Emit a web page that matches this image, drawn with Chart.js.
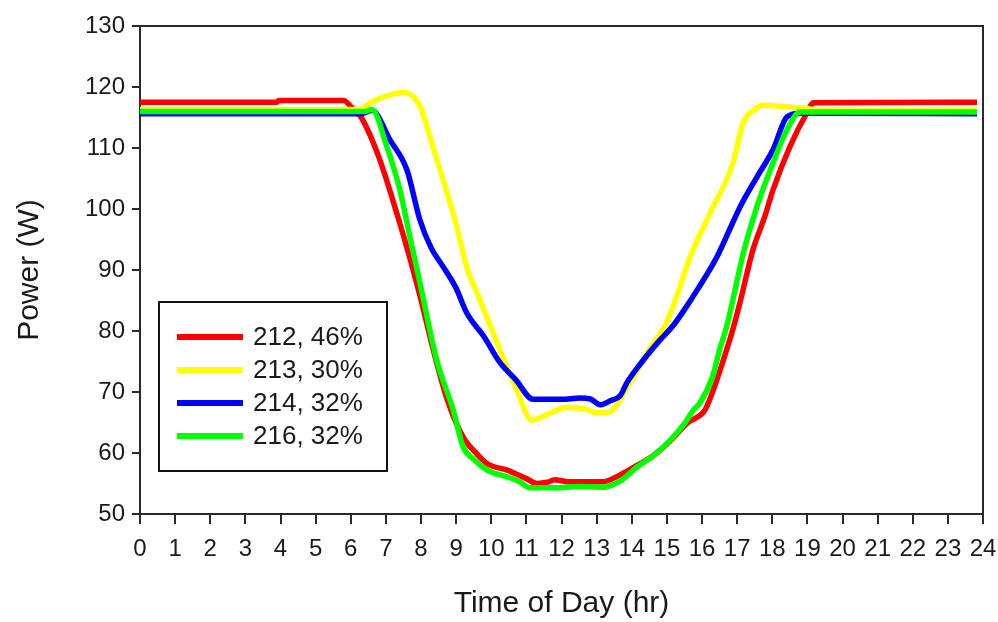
<!DOCTYPE html>
<html>
<head>
<meta charset="utf-8">
<script src="https://cdn.jsdelivr.net/npm/chart.js@4.4.1/dist/chart.umd.min.js"></script>
<style>
  html, body { margin: 0; padding: 0; background: #ffffff; }
  #wrap { width: 998px; height: 622px; position: relative; }
</style>
</head>
<body>
<div id="wrap"><canvas id="c" width="998" height="622"></canvas></div>
<script>
// ---- Data ----
const seriesLabels = ['212, 46%', '213, 30%', '214, 32%', '216, 32%'];
const seriesColors = ['#ff0000', '#ffff00', '#0000ff', '#00ff00'];

const hours212 = [0, 3.9, 3.95, 5.8, 6.0, 6.3, 6.8, 7.3, 7.7, 8.0, 8.35, 8.75, 9.2, 9.6, 9.9, 10.45, 11.0, 11.3, 11.6, 11.8, 12.2, 12.7, 13.2, 13.6, 14.1, 14.6, 15.1, 15.6, 16.08, 16.3, 16.7, 16.9, 17.1, 17.45, 17.8, 18.02, 18.5, 18.98, 19.17, 23.83];
const power212 = [117.5, 117.5, 117.8, 117.8, 116.8, 115.0, 108.5, 99.5, 91.6, 85.1, 76.9, 68.7, 62.6, 59.8, 58.2, 57.2, 55.8, 55.0, 55.2, 55.6, 55.3, 55.3, 55.3, 56.2, 57.8, 59.5, 62.0, 65.0, 67.0, 70.0, 76.9, 80.7, 85.1, 93.3, 99.0, 103.1, 110.2, 115.7, 117.4, 117.5];

const hours213 = [0, 6.3, 6.5, 7.0, 7.5, 7.77, 8.0, 8.34, 8.63, 9.0, 9.3, 9.6, 10.25, 10.73, 11.15, 11.67, 12.15, 12.7, 13.0, 13.3, 14.0, 14.5, 15.0, 15.3, 15.66, 16.23, 16.88, 17.17, 17.5, 17.73, 18.3, 18.96, 19.3, 23.83];
const power213 = [116.3, 116.3, 117.2, 118.5, 119.1, 118.5, 116.5, 110.2, 104.8, 97.5, 90.5, 86.2, 76.9, 70.3, 65.4, 66.5, 67.5, 67.2, 66.6, 66.6, 72.0, 77.0, 81.5, 86.0, 92.1, 99.3, 107.5, 114.1, 116.3, 117.0, 116.8, 116.5, 116.2, 116.2];

const hours214 = [0, 6.3, 6.6, 7.12, 7.6, 7.97, 8.3, 8.6, 9.0, 9.3, 9.8, 10.25, 10.7, 11.19, 12.0, 12.53, 12.8, 13.1, 13.4, 13.67, 13.86, 14.3, 14.8, 15.18, 15.5, 15.86, 16.42, 16.8, 17.08, 17.56, 18.02, 18.42, 18.8, 23.83];
const power214 = [115.6, 115.6, 116.2, 111.3, 106.4, 98.2, 93.5, 90.8, 87.0, 83.0, 79.0, 74.8, 72.0, 68.8, 68.8, 69.0, 68.9, 67.9, 68.6, 69.4, 71.5, 75.0, 78.5, 80.9, 83.5, 86.7, 92.1, 96.8, 100.3, 105.2, 109.7, 115.1, 115.7, 115.6];

const hours216 = [0, 6.4, 6.6, 7.03, 7.4, 7.7, 7.97, 8.45, 8.92, 9.2, 9.5, 9.88, 10.45, 10.8, 11.1, 11.77, 12.5, 13.2, 13.7, 14.15, 14.6, 15.1, 15.5, 15.75, 15.94, 16.3, 16.5, 16.7, 16.88, 17.17, 17.56, 18.02, 18.42, 18.79, 23.83];
const power216 = [116.0, 116.0, 116.3, 110.2, 103.1, 95.0, 87.9, 75.2, 67.0, 61.0, 59.0, 57.2, 56.1, 55.3, 54.3, 54.3, 54.5, 54.4, 55.5, 57.7, 59.5, 62.1, 64.8, 67.0, 68.2, 72.5, 76.9, 80.7, 85.1, 92.6, 100.3, 107.5, 113.0, 115.9, 115.9];

const yTickMin = 50, yTickMax = 130, yTickStep = 10;
const xTickMin = 0, xTickMax = 24, xTickStep = 1;
const xTitle = 'Time of Day (hr)';
const yTitle = 'Power (W)';

function pts(h, v) { return h.map((x, i) => ({ x: x, y: v[i] })); }

const allHours = [hours212, hours213, hours214, hours216];
const allPower = [power212, power213, power214, power216];
const drawOrder = [4, 3, 2, 1]; // green on top, red at bottom

const datasets = seriesLabels.map((lab, i) => ({
  label: lab,
  data: pts(allHours[i], allPower[i]),
  borderColor: seriesColors[i],
  backgroundColor: seriesColors[i],
  borderWidth: 5.5,
  pointRadius: 0,
  cubicInterpolationMode: 'monotone',
  borderJoinStyle: 'round',
  borderCapStyle: 'butt',
  fill: false,
  order: drawOrder[i]
}));

const AXIS = '#2a2a2a';
const FONT = "'Liberation Sans', Arial, sans-serif";

const framePlugin = {
  id: 'frame',
  afterDatasetsDraw(chart) {
    const { ctx, chartArea: a } = chart;
    ctx.save();
    ctx.strokeStyle = AXIS;
    ctx.lineWidth = 2;
    ctx.beginPath();
    ctx.moveTo(a.left - 8, a.top);
    ctx.lineTo(a.right, a.top);
    ctx.lineTo(a.right, a.bottom + 10);
    ctx.stroke();
    ctx.restore();
  }
};

const legendPlugin = {
  id: 'boxLegend',
  afterDraw(chart) {
    const { ctx, chartArea: a } = chart;
    const bx = a.left + 19, by = a.top + 276, bw = 228, bh = 169;
    ctx.save();
    ctx.fillStyle = '#ffffff';
    ctx.fillRect(bx, by, bw, bh);
    ctx.strokeStyle = '#111';
    ctx.lineWidth = 2;
    ctx.strokeRect(bx, by, bw, bh);
    ctx.font = "26px " + FONT;
    ctx.textBaseline = 'middle';
    ctx.textAlign = 'left';
    seriesLabels.forEach((lab, i) => {
      const y = by + 35 + i * 33;
      ctx.strokeStyle = seriesColors[i];
      ctx.lineWidth = 6;
      ctx.beginPath();
      ctx.moveTo(bx + 18, y);
      ctx.lineTo(bx + 84, y);
      ctx.stroke();
      ctx.fillStyle = '#1a1a1a';
      ctx.fillText(lab, bx + 94, y + 1);
    });
    ctx.restore();
  }
};

new Chart(document.getElementById('c'), {
  type: 'line',
  data: { datasets: datasets },
  options: {
    responsive: false,
    animation: false,
    layout: { padding: { top: 26, right: 15, bottom: 0, left: 0 } },
    plugins: { legend: { display: false }, tooltip: { enabled: false } },
    scales: {
      x: {
        type: 'linear',
        min: xTickMin, max: xTickMax,
        afterFit(s) { s.height = 108; s.paddingRight = 0; s.paddingLeft = 0; },
        ticks: {
          stepSize: xTickStep, autoSkip: false, maxRotation: 0, minRotation: 0,
          padding: 11, color: '#1a1a1a', font: { family: FONT, size: 24 }
        },
        grid: { drawOnChartArea: false, drawTicks: true, tickLength: 10, color: AXIS, lineWidth: 2 },
        border: { display: true, color: AXIS, width: 2 },
        title: { display: true, text: xTitle, color: '#1a1a1a', font: { family: FONT, size: 30 }, padding: { top: 0, bottom: 0 } }
      },
      y: {
        min: yTickMin, max: yTickMax,
        afterFit(s) { s.width = 140; },
        ticks: {
          stepSize: yTickStep, padding: 7, color: '#1a1a1a', font: { family: FONT, size: 24 }
        },
        grid: { drawOnChartArea: false, drawTicks: true, tickLength: 8, color: AXIS, lineWidth: 2 },
        border: { display: true, color: AXIS, width: 2 },
        title: { display: true, text: yTitle, color: '#1a1a1a', font: { family: FONT, size: 30 }, padding: { top: 12, bottom: 0 } }
      }
    }
  },
  plugins: [framePlugin, legendPlugin]
});
</script>
</body>
</html>
